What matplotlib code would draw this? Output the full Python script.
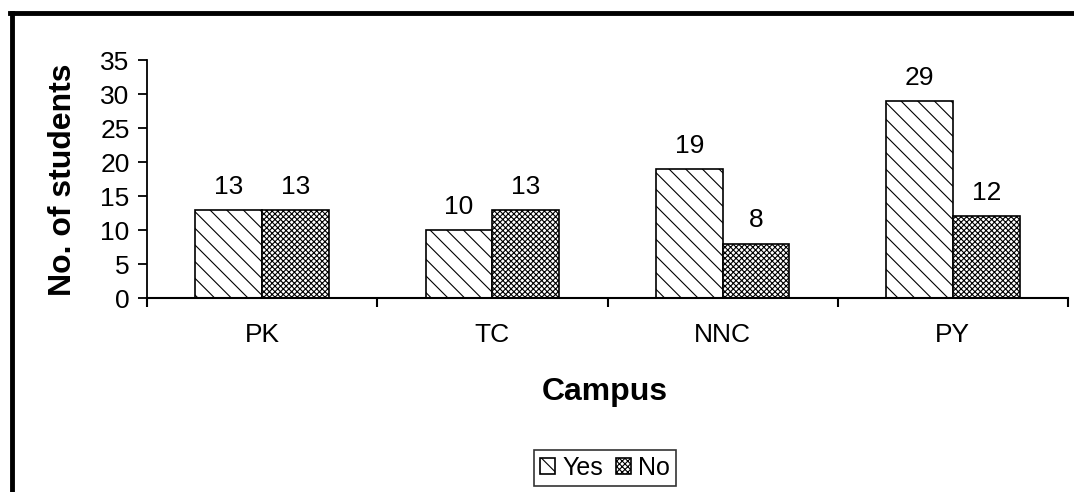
import numpy as np
import matplotlib.pyplot as plt
from matplotlib.lines import Line2D

plt.rcParams['font.family'] = ['Liberation Sans', 'DejaVu Sans']
plt.rcParams['hatch.linewidth'] = 0.8

campuses = ['PK', 'TC', 'NNC', 'PY']
yes = [13, 10, 19, 29]
no = [13, 13, 8, 12]

fig = plt.figure(figsize=(10.74, 4.92), dpi=100)
ax = fig.add_axes([0.1369, 0.3943, 0.8575, 0.4837])

x = np.arange(len(campuses))
w = 0.29
b1 = ax.bar(x - w / 2, yes, w, color='white', edgecolor='black', linewidth=1.2, hatch='\\\\', label='Yes')
b2 = ax.bar(x + w / 2, no, w, color='white', edgecolor='black', linewidth=1.2, hatch='xxxxxx', label='No')
ax.bar_label(b1, padding=8, fontsize=19)
ax.bar_label(b2, padding=8, fontsize=19)

ax.set_xlim(-0.5, len(campuses) - 0.5)
ax.set_ylim(0, 35)
ax.set_yticks(range(0, 36, 5))
ax.set_xticks(x)
ax.set_xticklabels(campuses)
ax.set_xticks(np.arange(-0.5, len(campuses), 1), minor=True)
ax.tick_params(axis='x', which='major', length=0, pad=18, labelsize=19)
ax.tick_params(axis='x', which='minor', length=6.5, width=1.5, direction='out')
ax.tick_params(axis='y', length=6.5, width=1.3, labelsize=19, pad=6)
for s in ['top', 'right']:
    ax.spines[s].set_visible(False)
ax.spines['left'].set_linewidth(1.3)
ax.spines['bottom'].set_linewidth(1.5)

fig.text(63 / 1074, 1 - 180 / 492, 'No. of students', rotation=90, ha='center', va='center',
         fontsize=23, fontweight='bold')
fig.text(605 / 1074, 1 - 392 / 492, 'Campus', ha='center', va='center', fontsize=23, fontweight='bold')

leg = ax.legend(loc='center', bbox_to_anchor=(605 / 1074, 1 - 468 / 492), bbox_transform=fig.transFigure,
                ncol=2, fontsize=18, frameon=True, fancybox=False, handlelength=0.6, handleheight=0.6,
                handletextpad=0.3, columnspacing=0.5, borderpad=0.25, borderaxespad=0)
leg.get_frame().set_edgecolor('black')
leg.get_frame().set_linewidth(1.2)

# thick border around the chart area
fig.add_artist(Line2D([11.5 / 1074, 11.5 / 1074], [0, 1 - 12.5 / 492], transform=fig.transFigure,
                      color='black', linewidth=3.5))
fig.add_artist(Line2D([10 / 1074, 1], [1 - 12.5 / 492, 1 - 12.5 / 492], transform=fig.transFigure,
                      color='black', linewidth=3.5))

fig.savefig('out.png', dpi=100)
